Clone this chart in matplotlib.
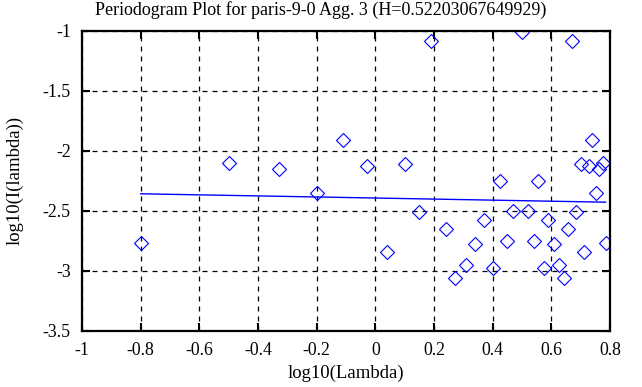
import matplotlib
matplotlib.use("Agg")
import matplotlib.pyplot as plt

plt.rcParams['font.family'] = ['Liberation Serif', 'DejaVu Serif']

# periodogram points (log10 lambda, log10 I(lambda))
log_lambda = [-0.80, -0.50, -0.33, -0.20, -0.11, -0.03, 0.04, 0.10, 0.15, 0.19,
              0.24, 0.27, 0.31, 0.34, 0.37, 0.40, 0.425, 0.45, 0.47, 0.50,
              0.52, 0.54, 0.556, 0.574, 0.59, 0.61, 0.626, 0.643, 0.657, 0.672,
              0.685, 0.70, 0.713, 0.727, 0.739, 0.751, 0.764, 0.777, 0.785]
log_I = [-2.77, -2.10, -2.15, -2.35, -1.91, -2.13, -2.84, -2.11, -2.51, -1.08,
         -2.65, -3.06, -2.95, -2.78, -2.58, -2.98, -2.25, -2.755, -2.50, -1.01,
         -2.50, -2.755, -2.255, -2.98, -2.58, -2.78, -2.95, -3.06, -2.65, -1.08,
         -2.51, -2.11, -2.84, -2.125, -1.91, -2.35, -2.15, -2.10, -2.77]

# fitted line
fit_x = [-0.80, 0.785]
fit_y = [-2.358, -2.428]

title = "Periodogram Plot for paris-9-0 Agg. 3 (H=0.52203067649929)"

fig = plt.figure(figsize=(6.42, 3.87), dpi=100)
ax = fig.add_axes([0.1277, 0.1455, 0.8224, 0.7744])

ax.plot(fit_x, fit_y, color='blue', lw=1.0)
ax.plot(log_lambda, log_I, linestyle='none', marker='D', markersize=7,
        markerfacecolor='none', markeredgecolor='blue', markeredgewidth=0.8)

ax.set_xlim(-1, 0.8)
ax.set_ylim(-3.5, -1)
ax.set_xticks([-1, -0.8, -0.6, -0.4, -0.2, 0, 0.2, 0.4, 0.6, 0.8])
ax.set_xticklabels(['-1', '-0.8', '-0.6', '-0.4', '-0.2', '0', '0.2', '0.4', '0.6', '0.8'])
ax.set_yticks([-3.5, -3, -2.5, -2, -1.5, -1])
ax.set_yticklabels(['-3.5', '-3', '-2.5', '-2', '-1.5', '-1'])

ax.grid(True, color='black', linestyle=(0, (4, 4)), linewidth=0.9)
ax.tick_params(direction='in', length=6, width=1.5, top=True, right=True,
               labelsize=12.8, pad=8)
for sp in ax.spines.values():
    sp.set_linewidth(1.6)

ax.set_xlabel('log10(Lambda)', fontsize=13.5, labelpad=4)
ax.set_ylabel('log10(I(lambda))', fontsize=13.5, labelpad=14)
# title is centred on the whole canvas, like gnuplot does
fig.text(0.5, 1 - 10 / 387, title, fontsize=13, ha='center', va='center')

fig.savefig('out.png', dpi=100)
